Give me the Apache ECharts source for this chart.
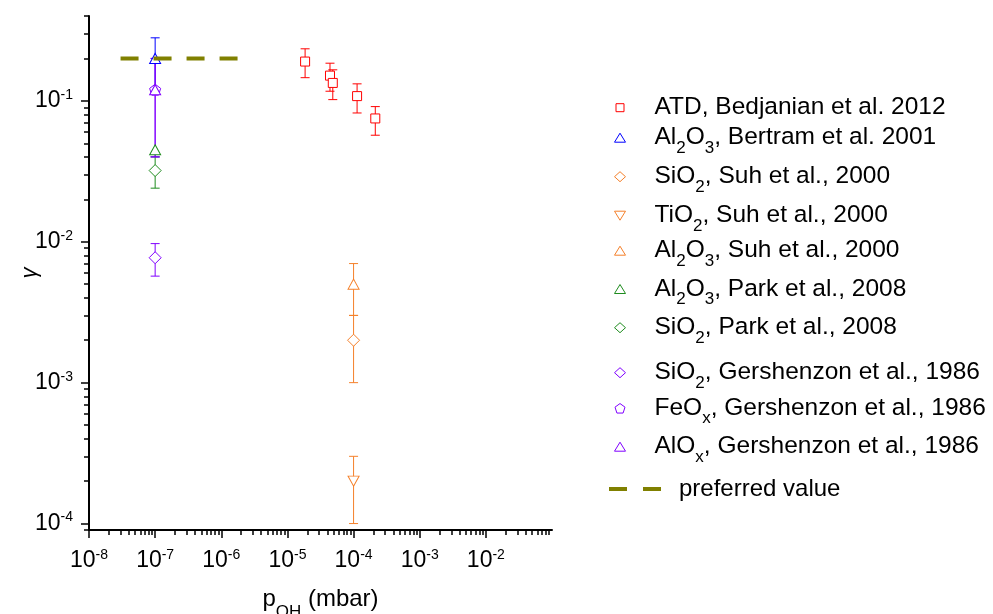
<!DOCTYPE html>
<html><head><meta charset="utf-8">
<script src="https://cdn.jsdelivr.net/npm/echarts@6/dist/echarts.min.js"></script>
<style>html,body{margin:0;padding:0;background:#fff}#c{width:993px;height:614px}</style>
</head><body><div id="c"></div>
<script>
const FONT = '"Liberation Sans", Arial, Helvetica, sans-serif';

// ---------- axes ----------
const xTickExps = [-8, -7, -6, -5, -4, -3, -2];
const yTickExps = [-4, -3, -2, -1];
const xRange = [1e-8, 0.1];
const yRange = [9e-5, 0.4];

// ---------- data (x = p_OH in mbar, y = gamma, lo/hi = error bar ends) ----------
const atdX  = [1.85e-5, 4.4e-5, 4.85e-5, 1.13e-4, 2.13e-4];
const atdY  = [0.19, 0.151, 0.134, 0.108, 0.075];
const atdLo = [0.146, 0.117, 0.102, 0.082, 0.057];
const atdHi = [0.234, 0.185, 0.166, 0.132, 0.091];

const bertramX = [1e-7], bertramY = [0.2], bertramLo = [0.12], bertramHi = [0.28];
const suhSiX = [1e-4], suhSiY = [0.002], suhSiLo = [0.001], suhSiHi = [0.003];
const suhTiX = [1e-4], suhTiY = [0.0002], suhTiLo = [0.0001], suhTiHi = [0.0003];
const suhAlX = [1e-4], suhAlY = [0.005], suhAlLo = [0.003], suhAlHi = [0.007];
const parkAlX = [1e-7], parkAlY = [0.045], parkAlLo = [null], parkAlHi = [null];
const parkSiX = [1e-7], parkSiY = [0.032], parkSiLo = [0.024], parkSiHi = [0.040];
const gerSiX = [1e-7], gerSiY = [0.0077], gerSiLo = [0.0057], gerSiHi = [0.0097];
const gerFeX = [1e-7], gerFeY = [0.12], gerFeLo = [0.04], gerFeHi = [0.2];
const gerAlX = [1e-7], gerAlY = [0.12], gerAlLo = [0.04], gerAlHi = [0.2];

const prefX = [3e-8, 2e-6], prefY = [0.2, 0.2];

const names = [
  'ATD, Bedjanian et al. 2012',
  'Al2O3, Bertram et al. 2001',
  'SiO2, Suh et al., 2000',
  'TiO2, Suh et al., 2000',
  'Al2O3, Suh et al., 2000',
  'Al2O3, Park et al., 2008',
  'SiO2, Park et al., 2008',
  'SiO2, Gershenzon et al., 1986',
  'FeOx, Gershenzon et al., 1986',
  'AlOx, Gershenzon et al., 1986',
  'preferred value'
];
const richNames = [
  'ATD, Bedjanian et al. 2012',
  'Al{s|2}O{s|3}, Bertram et al. 2001',
  'SiO{s|2}, Suh et al., 2000',
  'TiO{s|2}, Suh et al., 2000',
  'Al{s|2}O{s|3}, Suh et al., 2000',
  'Al{s|2}O{s|3}, Park et al., 2008',
  'SiO{s|2}, Park et al., 2008',
  'SiO{s|2}, Gershenzon et al., 1986',
  'FeO{s|x}, Gershenzon et al., 1986',
  'AlO{s|x}, Gershenzon et al., 1986',
  'preferred value'
];

// ---------- styles ----------
const RED = '#FF0000', BLUE = '#0000FF', ORANGE = '#F5802A', GREEN = '#1E8C1E', VIOLET = '#8000FF', OLIVE = '#808000';
const PENT = 'path://M0,-1L0.951,-0.309L0.588,0.809L-0.588,0.809L-0.951,-0.309Z';
const DOWN_TRI = 'path://M0,0L11,0L5.5,9Z';

const groups = [
  {x: atdX, y: atdY, lo: atdLo, hi: atdHi, color: RED, symbol: 'rect', size: 9, rot: 0, lw: 8, lh: 8},
  {x: bertramX, y: bertramY, lo: bertramLo, hi: bertramHi, color: BLUE, symbol: 'triangle', size: [11, 10], rot: 0, lw: 11, lh: 9},
  {x: suhSiX, y: suhSiY, lo: suhSiLo, hi: suhSiHi, color: ORANGE, symbol: 'diamond', size: 12, rot: 0, lw: 11, lh: 10},
  {x: suhTiX, y: suhTiY, lo: suhTiLo, hi: suhTiHi, color: ORANGE, symbol: 'triangle', size: [11, 10], rot: 180, lw: 11, lh: 9, icon: DOWN_TRI},
  {x: suhAlX, y: suhAlY, lo: suhAlLo, hi: suhAlHi, color: ORANGE, symbol: 'triangle', size: [11, 10], rot: 0, lw: 11, lh: 9},
  {x: parkAlX, y: parkAlY, lo: parkAlLo, hi: parkAlHi, color: GREEN, symbol: 'triangle', size: [11, 10], rot: 0, lw: 11, lh: 9},
  {x: parkSiX, y: parkSiY, lo: parkSiLo, hi: parkSiHi, color: GREEN, symbol: 'diamond', size: 12, rot: 0, lw: 11, lh: 10},
  {x: gerSiX, y: gerSiY, lo: gerSiLo, hi: gerSiHi, color: VIOLET, symbol: 'diamond', size: 12, rot: 0, lw: 11, lh: 10},
  {x: gerFeX, y: gerFeY, lo: gerFeLo, hi: gerFeHi, color: VIOLET, symbol: PENT, size: 11, rot: 0, lw: 10, lh: 10},
  {x: gerAlX, y: gerAlY, lo: gerAlLo, hi: gerAlHi, color: VIOLET, symbol: 'triangle', size: [11, 10], rot: 0, lw: 11, lh: 9}
];
const legendCenters = [107.7, 137.7, 176.7, 215.7, 250.7, 289, 327.7, 372.7, 408.3, 446.7, 489];

// minor ticks (log10 space)
function minorLogs(range) {
  const out = [];
  const e0 = Math.floor(Math.log10(range[0])), e1 = Math.ceil(Math.log10(range[1]));
  for (let e = e0; e <= e1; e++) {
    for (let k = 2; k <= 9; k++) {
      const v = k * Math.pow(10, e);
      if (v >= range[0] * 0.999 && v <= range[1] * 1.001) out.push(Math.log10(v));
    }
  }
  return out;
}

const series = [];
// error bars
groups.forEach((g, i) => {
  const d = [];
  g.x.forEach((xv, j) => { if (g.lo[j] != null) d.push([xv, g.y[j], g.lo[j], g.hi[j]]); });
  series.push({
    type: 'custom', name: 'eb' + i, silent: true, z: 2,
    encode: {x: 0, y: [2, 3]},
    renderItem: function (params, api) {
      const xv = api.value(0), lo = api.value(2), hi = api.value(3);
      const a = api.coord([xv, lo]), b = api.coord([xv, hi]);
      const cap = 4.5;
      const st = {stroke: g.color, lineWidth: 1, fill: null};
      return {type: 'group', children: [
        {type: 'line', shape: {x1: a[0], y1: a[1], x2: b[0], y2: b[1]}, style: st},
        {type: 'line', shape: {x1: a[0] - cap, y1: a[1], x2: a[0] + cap, y2: a[1]}, style: st},
        {type: 'line', shape: {x1: b[0] - cap, y1: b[1], x2: b[0] + cap, y2: b[1]}, style: st}
      ]};
    },
    data: d
  });
});
// markers
groups.forEach((g, i) => {
  series.push({
    type: 'scatter', name: names[i], z: 3,
    symbol: g.symbol, symbolSize: g.size, symbolRotate: g.rot,
    itemStyle: {color: '#ffffff', borderColor: g.color, borderWidth: 1, opacity: 1},
    emphasis: {disabled: true},
    data: g.x.map((xv, j) => [xv, g.y[j]])
  });
});
// preferred value
series.push({
  type: 'line', name: names[10], z: 4, symbol: 'none',
  itemStyle: {color: OLIVE},
  lineStyle: {color: OLIVE, width: 4, type: [18, 15]},
  data: prefX.map((xv, j) => [xv, prefY[j]])
});

// legends, one per entry
const legends = [];
const LFS = 24.5;
const legText = {fontSize: LFS, lineHeight: 38, fontFamily: FONT, color: '#000'};
groups.forEach((g, i) => {
  const spacer = 29.5 - g.lw / 2;
  legends.push({
    data: [g.icon ? {name: names[i], icon: g.icon} : names[i]],
    orient: 'vertical', padding: 0, selectedMode: false,
    left: 619.5 - g.lw / 2, top: legendCenters[i] - 19,
    itemWidth: g.lw, itemHeight: g.lh, symbolKeepAspect: !g.icon,
    itemStyle: {borderWidth: 1},
    formatter: () => '{g| }' + richNames[i],
    textStyle: Object.assign({}, legText, {rich: {
      g: {width: spacer, fontSize: LFS, lineHeight: 38},
      s: {fontSize: 17, lineHeight: 17, verticalAlign: 'bottom', fontFamily: FONT, color: '#000'}
    }})
  });
});
legends.push({
  data: [{name: names[10], icon: 'path://M0,0H18V4H0Z M34,0H52V4H34Z'}],
  orient: 'vertical', padding: 0, selectedMode: false,
  left: 609, top: legendCenters[10] - 19,
  itemWidth: 52, itemHeight: 4, symbolKeepAspect: false,
  itemStyle: {color: OLIVE, borderWidth: 0},
  formatter: () => '{g| }' + richNames[10],
  textStyle: Object.assign({}, legText, {fontSize: 24, rich: {g: {width: 13, fontSize: 24, lineHeight: 38}}})
});

const tickLine = {color: '#000', width: 1.5};
const labRich = {
  m: {fontSize: 23, lineHeight: 26, fontFamily: FONT, color: '#000'},
  u: {fontSize: 14, lineHeight: 14, verticalAlign: 'top', fontFamily: FONT, color: '#000'}
};
const fmtPow = v => '{m|10}{u|' + Math.round(v) + '}';

const option = {
  animation: false,
  backgroundColor: '#fff',
  grid: {left: 89, top: 16, width: 463, height: 514, containLabel: false, outerBoundsMode: 'none'},
  legend: legends,
  xAxis: [
    {type: 'log', logBase: 10, min: xRange[0], max: xRange[1],
     axisLine: {show: true, onZero: false, lineStyle: {color: '#000', width: 2}},
     axisTick: {show: false}, axisLabel: {show: false}, splitLine: {show: false},
     name: 'p{s|OH} (mbar)', nameLocation: 'middle', nameGap: 47,
     nameTextStyle: {fontSize: 24, lineHeight: 44, fontFamily: FONT, color: '#000',
       rich: {s: {fontSize: 17, lineHeight: 17, verticalAlign: 'bottom', fontFamily: FONT, color: '#000'}}}},
    {type: 'value', min: Math.log10(xRange[0]), max: Math.log10(xRange[1]), position: 'bottom',
     axisLine: {show: false, onZero: false}, splitLine: {show: false},
     axisTick: {show: true, customValues: xTickExps, length: 8, lineStyle: tickLine},
     axisLabel: {show: true, customValues: xTickExps, margin: 18, formatter: fmtPow, rich: labRich}},
    {type: 'value', min: Math.log10(xRange[0]), max: Math.log10(xRange[1]), position: 'bottom',
     axisLine: {show: false, onZero: false}, splitLine: {show: false},
     axisTick: {show: true, customValues: minorLogs(xRange), length: 5, lineStyle: tickLine},
     axisLabel: {show: false}}
  ],
  yAxis: [
    {type: 'log', logBase: 10, min: yRange[0], max: yRange[1],
     axisLine: {show: true, onZero: false, lineStyle: {color: '#000', width: 2}},
     axisTick: {show: false}, axisLabel: {show: false}, splitLine: {show: false},
     name: 'γ', nameLocation: 'middle', nameGap: 48,
     nameTextStyle: {fontSize: 22, fontStyle: 'italic', fontFamily: FONT, color: '#000'}},
    {type: 'value', min: Math.log10(yRange[0]), max: Math.log10(yRange[1]), position: 'left',
     axisLine: {show: false, onZero: false}, splitLine: {show: false},
     axisTick: {show: true, customValues: yTickExps, length: 8, lineStyle: tickLine},
     axisLabel: {show: true, customValues: yTickExps, margin: 16, formatter: fmtPow, rich: labRich}},
    {type: 'value', min: Math.log10(yRange[0]), max: Math.log10(yRange[1]), position: 'left',
     axisLine: {show: false, onZero: false}, splitLine: {show: false},
     axisTick: {show: true, customValues: minorLogs(yRange), length: 5, lineStyle: tickLine},
     axisLabel: {show: false}}
  ],
  series: series
};

const chart = echarts.init(document.getElementById('c'), null, {renderer: 'canvas'});
chart.setOption(option);
</script>
</body></html>
